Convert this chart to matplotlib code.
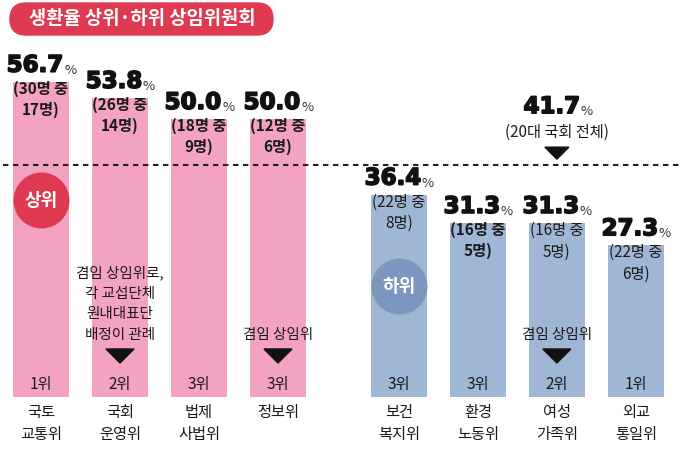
import matplotlib

matplotlib.use("Agg")

import matplotlib.patheffects as pe
import matplotlib.pyplot as plt
from matplotlib.patches import FancyBboxPatch, Polygon
from matplotlib.transforms import IdentityTransform

plt.rcParams["font.family"] = ["Noto Sans CJK KR", "DejaVu Sans"]

# data
committees = ["국토\n교통위", "국회\n운영위", "법제\n사법위", "정보위",
              "보건\n복지위", "환경\n노동위", "여성\n가족위", "외교\n통일위"]
rates = [56.7, 53.8, 50.0, 50.0, 36.4, 31.3, 31.3, 27.3]
totals = [30, 26, 18, 12, 22, 16, 16, 22]
returned = [17, 14, 9, 6, 8, 5, 5, 6]
ranks = ["1위", "2위", "3위", "3위", "3위", "3위", "2위", "1위"]
bold_detail = [True, True, True, True, False, True, False, False]
group = ["top"] * 4 + ["bottom"] * 4
overall = 41.7

notes = {
    1: "겸임 상임위로,\n각 교섭단체\n원내대표단\n배정이 관례",
    3: "겸임 상임위",
    6: "겸임 상임위",
}

PINK = "#f4a2c1"
BLUE = "#a0b6d5"
RED = "#e03a52"
SLATE = "#7c96c0"
NUM_FONT = ["DejaVu Sans"]

W, H = 680, 449
fig = plt.figure(figsize=(W / 100, H / 100), dpi=100)
ax = fig.add_axes([0, 0, 1, 1])
ax.axis("off")

# 1 x unit = 79 px, 1 y unit (percent) = 5.56 px, zero line at y=397 px
UX, UY = 79.0, 5.56
ax.set_xlim(-41 / UX, (W - 41) / UX)
ax.set_ylim(-(H - 397) / UY, 397 / UY)
px_x = 1 / UX
px_y = 1 / UY

xs = [i + (0.53 if g == "bottom" else 0) for i, g in enumerate(group)]
colors = [PINK if g == "top" else BLUE for g in group]

ax.bar(xs, rates, width=56 / UX, color=colors, zorder=1)
ax.axhline(overall, xmin=0.005, xmax=1, color="#222222", lw=1.5,
           linestyle=(0, (2.6, 2.2)), zorder=3)


def triangle(x, y_top, w=28, h=14):
    pts = [(x - w / 2 * px_x, y_top), (x + w / 2 * px_x, y_top),
           (x, y_top - h * px_y)]
    ax.add_patch(Polygon(pts, closed=True, color="#111111", zorder=4))


def big_number(x, y, value):
    num = ax.text(x, y, f"{value:.1f}", ha="center", va="baseline",
                  fontsize=16.5, fontweight="bold", family=NUM_FONT,
                  color="#111111", zorder=5,
                  path_effects=[pe.withStroke(linewidth=1.2,
                                              foreground="#111111")])
    ax.annotate("%", xy=(1, 0), xycoords=num, xytext=(0.5, 0),
                textcoords="offset points", ha="left", va="bottom",
                fontsize=9.5, color="#333333", zorder=5)


for i, x in enumerate(xs):
    r = rates[i]
    big_number(x - 6 * px_x, r + 10 * px_y, r)
    ax.text(x, r + 1 * px_y, f"({totals[i]}명 중\n{returned[i]}명)",
            ha="center", va="top", fontsize=11, linespacing=1.35,
            fontweight="bold" if bold_detail[i] else "normal",
            color="#1a1a1a", zorder=5)
    ax.text(x, 12 * px_y, ranks[i], ha="center", va="center",
            fontsize=11, color="#1a1a1a", zorder=5)
    ax.text(x, -7 * px_y, committees[i], ha="center", va="top",
            fontsize=11, linespacing=1.35, color="#1a1a1a")

for i, txt in notes.items():
    x = xs[i]
    ax.text(x, 55 * px_y, txt, ha="center", va="bottom", fontsize=10.5,
            linespacing=1.6, color="#1a1a1a", zorder=5)
    triangle(x, 48 * px_y)

# overall label
xo = xs[6]
big_number(xo - 5 * px_x, overall + 52 * px_y, overall)
ax.text(xo, overall + 33 * px_y, "(20대 국회 전체)", ha="center",
        va="center", fontsize=11, color="#1a1a1a")
triangle(xo, overall + 18 * px_y, w=24, h=12)

# badges
ax.scatter([xs[0]], [(397 - 200) * px_y], s=1625, color=RED, zorder=4,
           linewidths=0)
ax.text(xs[0], (397 - 200) * px_y, "상위", ha="center", va="center",
        fontsize=13, fontweight="bold", color="white", zorder=5)
ax.scatter([xs[4]], [(397 - 286) * px_y], s=1625, color=SLATE, zorder=4,
           linewidths=0)
ax.text(xs[4], (397 - 286) * px_y, "하위", ha="center", va="center",
        fontsize=13, fontweight="bold", color="white", zorder=5)

# title pill
pill = FancyBboxPatch((10, H - 35), 263, 32,
                      boxstyle="round,pad=0,rounding_size=16",
                      transform=IdentityTransform(), color=RED, zorder=6)
fig.patches.append(pill)
fig.text(142 / W, 1 - 19 / H, "생환율 상위·하위 상임위원회", ha="center",
         va="center", fontsize=13.5, fontweight="bold", color="white",
         zorder=7)

fig.savefig("out.png", dpi=100)
plt.close(fig)
